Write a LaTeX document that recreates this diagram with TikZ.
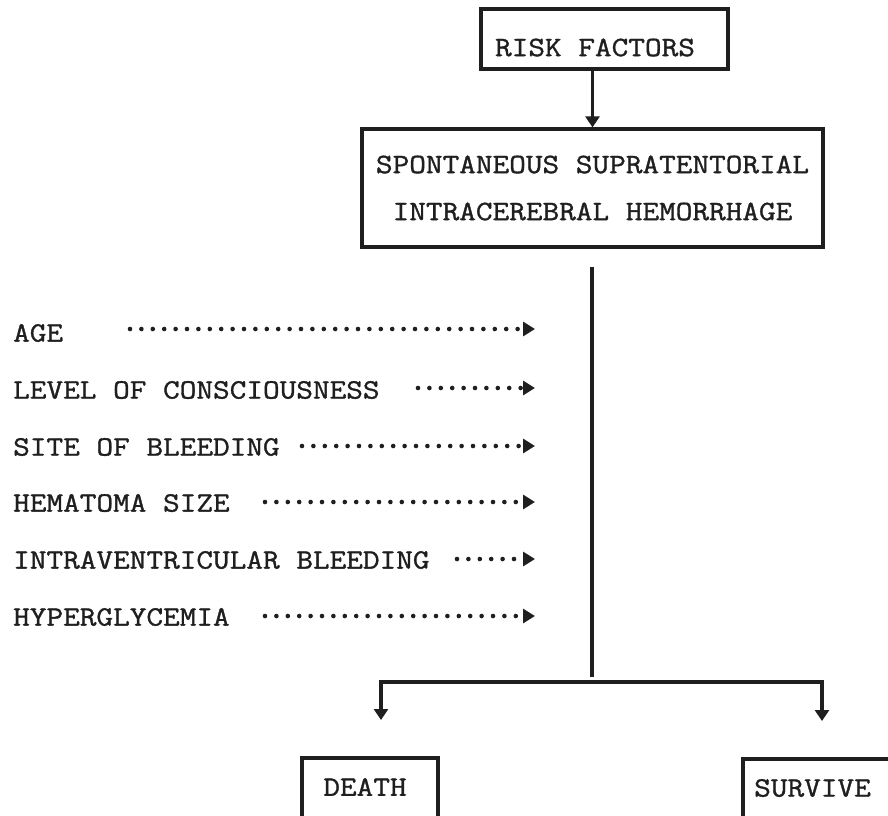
\documentclass[tikz,border=0pt]{standalone}
\usepackage{fontspec}
\newfontfamily\twfont{Latin Modern Mono}[FakeStretch=1.155, FakeBold=1.2]
\usetikzlibrary{arrows.meta}
\tikzset{
  lbl/.style={inner sep=0pt, font={\twfont\fontsize{28}{47}\selectfont}, text=black!88},
  boxed/.style={draw=black!88, line width=3.2pt, inner sep=0pt},
  solidline/.style={draw=black!88, line width=3.2pt},
  solidarrow/.style={solidline, -{Triangle[length=11pt,width=14pt]}},
  dotarrow/.style={draw=black!88, line width=4.6pt, line cap=round, dash pattern=on 0pt off 11.4pt, -{Triangle[length=12pt,width=14pt]}}
}
\begin{document}
\begin{tikzpicture}[x=1pt,y=-1pt]
\useasboundingbox (0,0) rectangle (888,815);
\clip (0,0) rectangle (888,815);
% top box
\node[boxed, minimum width=247pt, minimum height=60pt] (risk) at (604.5,39) {};
\node[lbl] (risktxt) at (595,47.5) {RISK FACTORS};
% main box
\node[boxed, lbl, minimum width=461pt, minimum height=118pt, align=center] (ich) at (592.5,188)
  {SPONTANEOUS SUPRATENTORIAL\\INTRACEREBRAL HEMORRHAGE};
\draw[solidarrow] (risk.south -| ich.north) -- (ich.north);
% trunk
\coordinate (vtop) at (592,267);
\coordinate (vbot) at (592,677);
\draw[solidline] (vtop) -- (vbot);
% branches
\coordinate (lc) at (381,682);
\coordinate (rc) at (822,682);
\coordinate (dtip) at (381,720);
\coordinate (stip) at (822,721);
\draw[solidline, line join=miter, {Triangle[length=11pt,width=14pt]}-{Triangle[length=11pt,width=14pt]}] (dtip) -- (lc) -- (rc) -- (stip);
% outcome boxes (cut by the page edge)
\draw[solidline] (302,830) -- (302,758) -- (438,758) -- (438,830);
\node[lbl] (death) at (365,787) {DEATH};
\draw[solidline] (743,830) -- (743,759) -- (900,759);
\node[lbl] (survive) at (812.5,788) {SURVIVE};
% factors
\node[lbl, anchor=west] (f1) at (13,333) {AGE};
\node[lbl, anchor=west] (f2) at (13,390) {LEVEL OF CONSCIOUSNESS};
\node[lbl, anchor=west] (f3) at (13,447) {SITE OF BLEEDING};
\node[lbl, anchor=west] (f4) at (13,503) {HEMATOMA SIZE};
\node[lbl, anchor=west] (f5) at (13,560) {INTRAVENTRICULAR BLEEDING};
\node[lbl, anchor=west] (f6) at (13,617) {HYPERGLYCEMIA};
\coordinate (s1) at (130,329); \coordinate (e1) at (535,329);
\coordinate (s2) at (418,388); \coordinate (e2) at (535,388);
\coordinate (s3) at (302,446); \coordinate (e3) at (535,446);
\coordinate (s4) at (265,502); \coordinate (e4) at (535,502);
\coordinate (s5) at (457,559); \coordinate (e5) at (535,559);
\coordinate (s6) at (265,616); \coordinate (e6) at (535,616);
\foreach \i in {1,...,6} {\draw[dotarrow] (s\i) -- (e\i);}
\end{tikzpicture}
\end{document}
